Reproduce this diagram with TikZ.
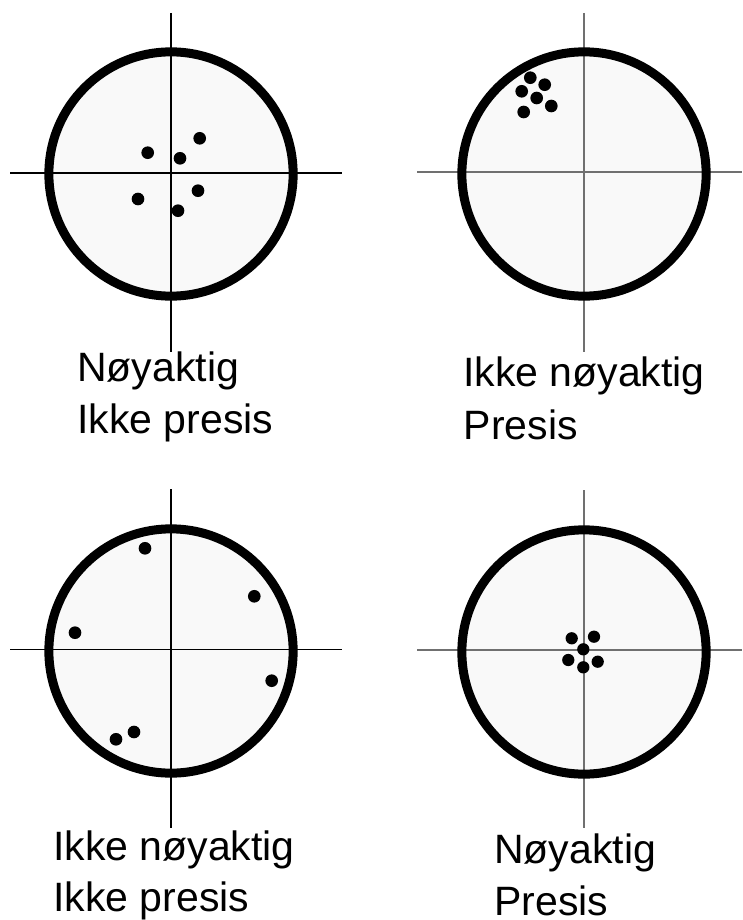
\documentclass[tikz,border=0pt]{standalone}
\usepackage{fontspec}
\setmainfont{Liberation Sans}
\definecolor{boardfill}{HTML}{F9F9F9}
\definecolor{crossgray}{HTML}{707070}
\begin{document}
\begin{tikzpicture}[x=0.75pt,y=-0.75pt,
  ring/.style={line width=6.75pt},
  crossblack/.style={line width=0.8pt,black},
  crossgrey/.style={line width=1.1pt,crossgray},
  caption/.style={anchor=base west,inner sep=0pt,font=\fontsize{30.75}{39}\selectfont}]

\useasboundingbox (0,0) rectangle (742,920);

% top left
\fill[boardfill] (171,174) circle (91.6pt);
\draw[crossblack] (171,13) -- (171,352);
\draw[crossblack] (10,173) -- (342,173);
\draw[ring] (171,174) circle (91.6pt);
\fill (199.7,138.3) circle (4.75pt);
\fill (147.7,152.7) circle (4.75pt);
\fill (180,158.3) circle (4.75pt);
\fill (198,190.7) circle (4.75pt);
\fill (138,199) circle (4.75pt);
\fill (178,210.7) circle (4.75pt);
\node[caption] (tlfirst) at (77,381.7) {Nøyaktig};
\node[caption] (tlsecond) at (77,433.3) {Ikke presis};

% top right
\fill[boardfill] (584,174) circle (91.6pt);
\draw[crossgrey] (584,13) -- (584,352);
\draw[crossgrey] (417,172) -- (742,172);
\draw[ring] (584,174) circle (91.6pt);
\fill (530.3,77.7) circle (4.75pt);
\fill (544.7,84.7) circle (4.75pt);
\fill (521.7,91.3) circle (4.75pt);
\fill (536.7,98) circle (4.75pt);
\fill (551.3,106) circle (4.75pt);
\fill (523.7,112) circle (4.75pt);
\node[caption] (trfirst) at (463,386) {Ikke nøyaktig};
\node[caption] (trsecond) at (463.5,439) {Presis};

% bottom left
\fill[boardfill] (171,651) circle (91.6pt);
\draw[crossblack] (171,489) -- (171,828);
\draw[crossblack] (10,649.3) -- (342,649.3);
\draw[ring] (171,651) circle (91.6pt);
\fill (145,548.3) circle (4.75pt);
\fill (254.3,596.3) circle (4.75pt);
\fill (75,632.7) circle (4.75pt);
\fill (271.7,680.7) circle (4.75pt);
\fill (134,732) circle (4.75pt);
\fill (116,739.3) circle (4.75pt);
\node[caption] (blfirst) at (53,860) {Ikke nøyaktig};
\node[caption] (blsecond) at (53,911.7) {Ikke presis};

% bottom right
\fill[boardfill] (584,652) circle (91.6pt);
\draw[crossgrey] (584,490) -- (584,828);
\draw[crossgrey] (417,650) -- (742,650);
\draw[ring] (584,652) circle (91.6pt);
\fill (571.7,638.3) circle (4.6pt);
\fill (594,636.7) circle (4.6pt);
\fill (583.3,649.3) circle (4.6pt);
\fill (568.3,660) circle (4.6pt);
\fill (597.7,661.7) circle (4.6pt);
\fill (583.3,667.3) circle (4.6pt);
\node[caption] (brfirst) at (494,863.3) {Nøyaktig};
\node[caption] (brsecond) at (494,915) {Presis};

\end{tikzpicture}
\end{document}
